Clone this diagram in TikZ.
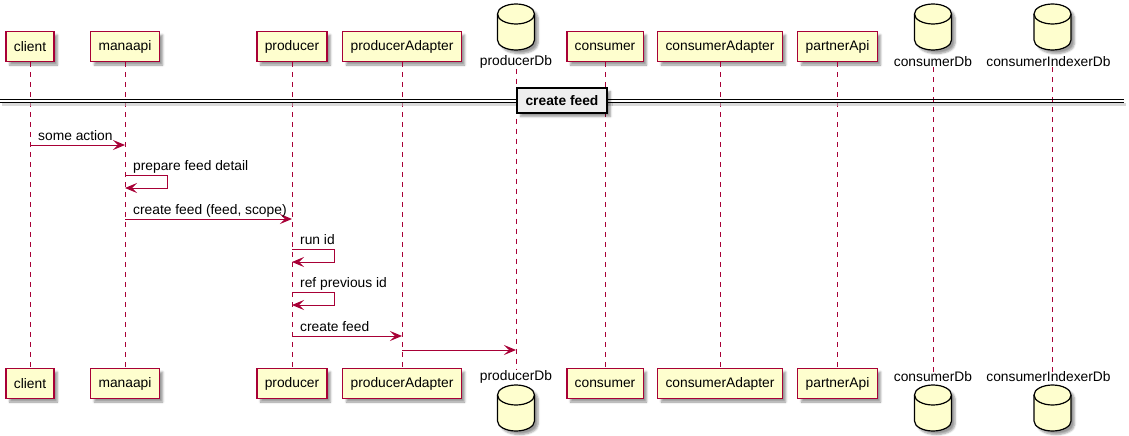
\documentclass[tikz,border=0pt]{standalone}
\usepackage{fontspec}
\setmainfont{Liberation Sans}
\usetikzlibrary{arrows.meta,shadows.blur}
\definecolor{umlred}{HTML}{A80036}
\definecolor{umlfill}{HTML}{FEFECE}
\definecolor{sepfill}{HTML}{EEEEEE}
\tikzset{
  txt/.style={font=\fontsize{13.8}{16}\selectfont},
  softshadow/.style={blur shadow={shadow xshift=3.5pt, shadow yshift=-3.5pt,
      shadow opacity=40, shadow blur steps=5, shadow blur radius=2pt}},
  participant/.style={txt, draw=umlred, fill=umlfill, line width=1.2pt,
      minimum height=30pt, inner xsep=7.8pt, inner ysep=0pt, softshadow},
  dblabel/.style={txt, inner sep=0pt},
  dbshape/.style={draw=black, fill=umlfill, line width=1.2pt, softshadow},
  lifeline/.style={draw=umlred, line width=0.8pt, dash pattern=on 5pt off 5pt},
  msg/.style={draw=umlred, line width=1pt,
      -{Stealth[length=12pt, width=10pt, inset=5pt]}},
  msglabel/.style={txt, anchor=base west, inner sep=0pt},
  divider/.style={txt, font=\fontsize{13.8}{16}\selectfont\bfseries, draw=black,
      fill=sepfill, line width=1.6pt, minimum width=90pt, minimum height=25pt,
      inner sep=0pt, softshadow},
}
% database cylinder: centre x, top y, bottom y
\newcommand{\dbcyl}[3]{%
  \path[dbshape] (#1-18.5,#2+10) arc[start angle=180, end angle=0, x radius=18.5pt, y radius=10pt]
    -- (#1+18.5,#3-10) arc[start angle=0, end angle=-180, x radius=18.5pt, y radius=10pt] -- cycle;
  \draw[line width=1.2pt] (#1-18.5,#2+10) arc[start angle=180, end angle=360, x radius=18.5pt, y radius=10pt];
}
\begin{document}
\begin{tikzpicture}[x=1pt, y=-1pt]
\useasboundingbox (0,0) rectangle (1129,436);

% participants, top row
\node[participant] (clientT) at (30,46.5) {client};
\node[participant] (manaT) at (125,46.5) {manaapi};
\node[participant] (prodT) at (292,46.5) {producer};
\node[participant] (padT) at (402,46.5) {producerAdapter};
\node[participant] (consT) at (605,46.5) {consumer};
\node[participant] (cadT) at (720,46.5) {consumerAdapter};
\node[participant] (partT) at (837.5,46.5) {partnerApi};
\dbcyl{516}{4}{50}
\node[dblabel] (pdbT) at (516,62) {producerDb};
\dbcyl{933}{4}{50}
\node[dblabel] (cdbT) at (933,62) {consumerDb};
\dbcyl{1052.5}{4}{50}
\node[dblabel] (cidbT) at (1048.5,62) {consumerIndexerDb};

% participants, bottom row
\node[participant] (clientB) at (30,383.5) {client};
\node[participant] (manaB) at (125,383.5) {manaapi};
\node[participant] (prodB) at (292,383.5) {producer};
\node[participant] (padB) at (402,383.5) {producerAdapter};
\node[participant] (consB) at (605,383.5) {consumer};
\node[participant] (cadB) at (720,383.5) {consumerAdapter};
\node[participant] (partB) at (837.5,383.5) {partnerApi};
\node[dblabel] (pdbB) at (516,377) {producerDb};
\dbcyl{516}{385}{431}
\node[dblabel] (cdbB) at (933,377) {consumerDb};
\dbcyl{933}{385}{431}
\node[dblabel] (cidbB) at (1048.5,377) {consumerIndexerDb};
\dbcyl{1052.5}{385}{431}

% lifelines
\foreach \a/\b in {clientT/clientB, manaT/manaB, prodT/prodB, padT/padB,
    pdbT/pdbB, consT/consB, cadT/cadB, partT/partB, cdbT/cdbB}
  \path[lifeline] (\a.south) -- (\b.north);
\path[lifeline] (1052.5,0 |- cidbT.south) -- (1052.5,0 |- cidbB.north);

% group divider
\draw[line width=3pt, black!25, opacity=0.6] (2,104.5) -- (1126,104.5);
\draw[line width=1pt] (0,99) -- (1124,99);
\draw[line width=1pt] (0,102) -- (1124,102);
\node[divider] (sep) at (562,100.5) {create feed};

% messages
\coordinate (m1a) at (clientT |- 0,145);
\coordinate (m1b) at (manaT |- 0,145);
\draw[msg] (m1a) -- (m1b);
\node[msglabel] (l1) at ([xshift=8pt, yshift=5pt]m1a) {some action};

\coordinate (m2a) at (manaT |- 0,175);
\draw[msg] (m2a) -- ++(42,0) -- ++(0,13) -- ++(-42,0);
\node[msglabel] (l2) at ([xshift=8pt, yshift=4.5pt]m2a) {prepare feed detail};

\coordinate (m3a) at (manaT |- 0,219);
\coordinate (m3b) at (prodT |- 0,219);
\draw[msg] (m3a) -- (m3b);
\node[msglabel] (l3) at ([xshift=8pt, yshift=5pt]m3a) {create feed (feed, scope)};

\coordinate (m4a) at (prodT |- 0,249);
\draw[msg] (m4a) -- ++(42,0) -- ++(0,13) -- ++(-42,0);
\node[msglabel] (l4) at ([xshift=8pt, yshift=4.5pt]m4a) {run id};

\coordinate (m5a) at (prodT |- 0,292);
\draw[msg] (m5a) -- ++(42,0) -- ++(0,13) -- ++(-42,0);
\node[msglabel] (l5) at ([xshift=8pt, yshift=4.5pt]m5a) {ref previous id};

\coordinate (m6a) at (prodT |- 0,336);
\coordinate (m6b) at (padT |- 0,336);
\draw[msg] (m6a) -- (m6b);
\node[msglabel] (l6) at ([xshift=8pt, yshift=5pt]m6a) {create feed};

\coordinate (m7a) at (padT |- 0,350);
\coordinate (m7b) at (pdbT |- 0,350);
\draw[msg] (m7a) -- (m7b);
\end{tikzpicture}
\end{document}
